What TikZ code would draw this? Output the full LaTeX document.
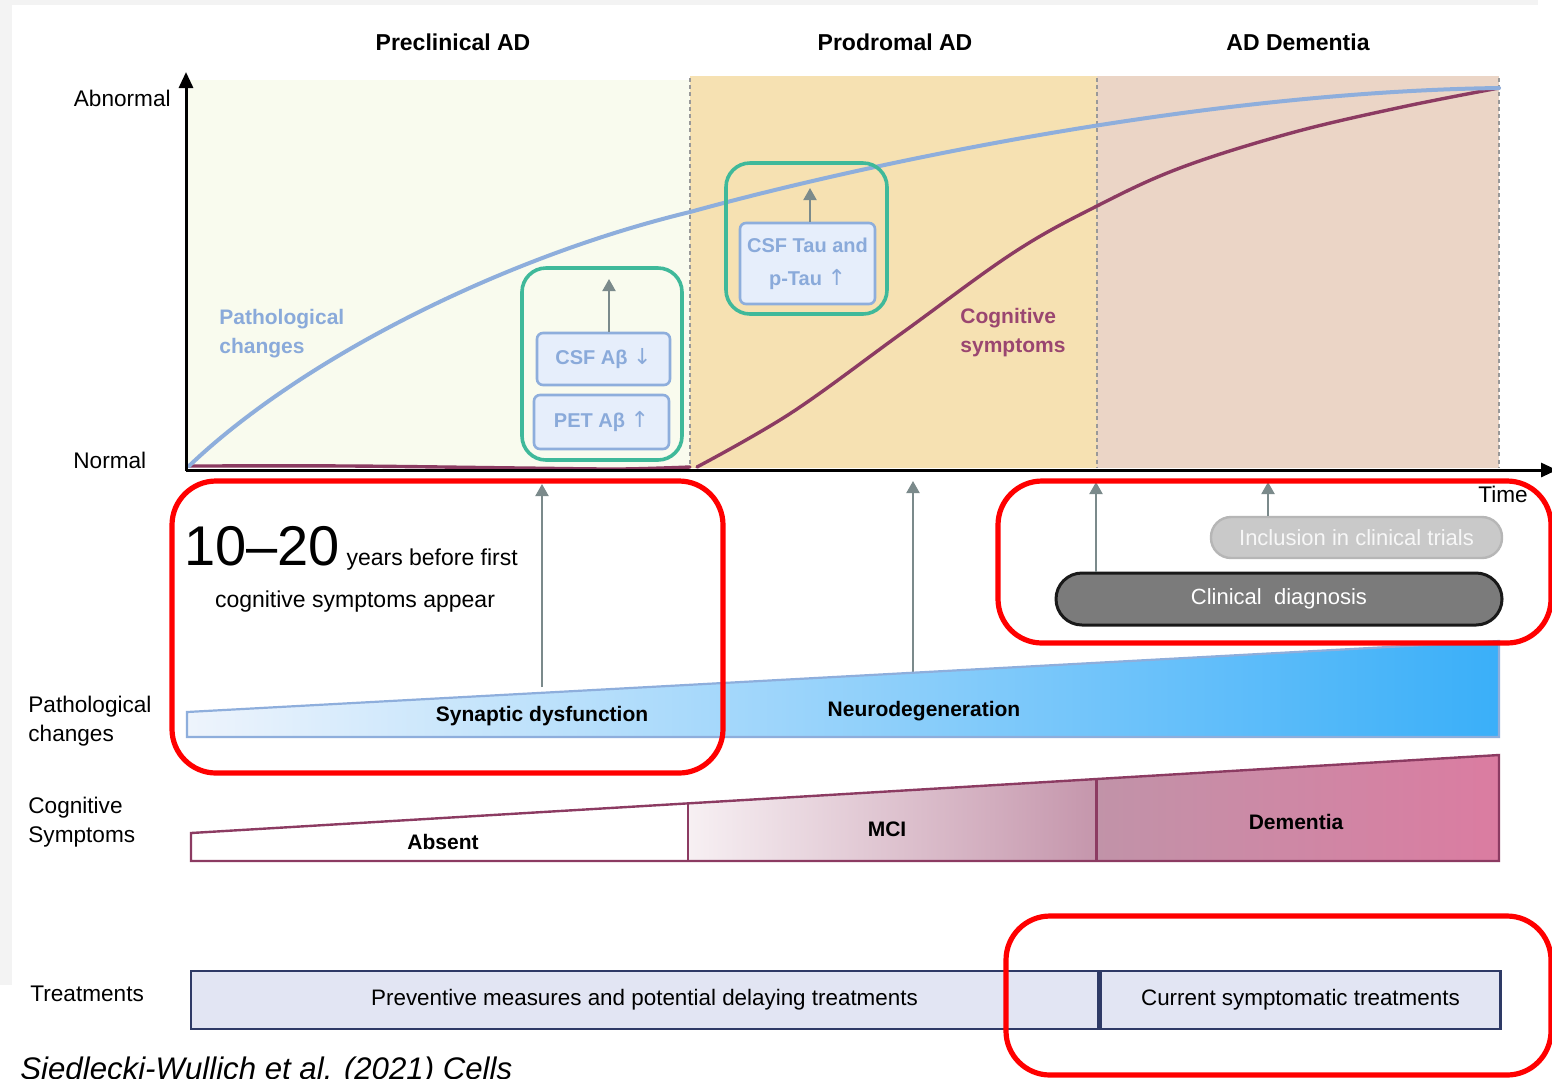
\documentclass[tikz,border=0pt]{standalone}
\usepackage{fontspec}
\setmainfont{Liberation Sans}
\newfontfamily\arrowfont{DejaVu Sans}
\usepackage{tikz}
\usetikzlibrary{arrows.meta,positioning,calc}
\definecolor{pageGray}{HTML}{F3F3F3}
\definecolor{preBg}{HTML}{F9FBEE}
\definecolor{proBg}{HTML}{F6E1B2}
\definecolor{demBg}{HTML}{EBD5C6}
\definecolor{pathBlue}{HTML}{8EAEDC}
\definecolor{pathText}{HTML}{8AAADA}
\definecolor{cogPurple}{HTML}{8C3B62}
\definecolor{cogText}{HTML}{9A4670}
\definecolor{tealFrame}{HTML}{3FB99A}
\definecolor{markFill}{HTML}{E6EEFB}
\definecolor{arrowGray}{HTML}{7B8A8B}
\definecolor{trialFill}{HTML}{C9C9C9}
\definecolor{trialEdge}{HTML}{B6B6B6}
\definecolor{dxFill}{HTML}{7B7B7B}
\definecolor{neuroFade}{HTML}{EEF4FC}
\definecolor{neuroBlue}{HTML}{3AAFF9}
\definecolor{mciFade}{HTML}{F7F0F3}
\definecolor{mciPink}{HTML}{C596AC}
\definecolor{demPink}{HTML}{DB7CA1}
\definecolor{treatFill}{HTML}{E2E5F3}
\definecolor{treatEdge}{HTML}{2E3A66}
\definecolor{alertRed}{HTML}{FF0000}
\newcommand{\upmark}{{\arrowfont\mdseries\fontsize{11}{12}\selectfont ↑}}
\newcommand{\downmark}{{\arrowfont\mdseries\fontsize{11}{12}\selectfont ↓}}
\tikzset{
  phase/.style={font=\bfseries\fontsize{11.5}{14}\selectfont,inner sep=0},
  sidetext/.style={font=\fontsize{11.3}{14.5}\selectfont,inner sep=0,align=left},
  curvetext/.style={font=\bfseries\fontsize{10.5}{14.5}\selectfont,inner sep=0,align=left},
  bandtext/.style={font=\bfseries\fontsize{10.5}{13}\selectfont,inner sep=0},
  axisline/.style={line width=1.5pt,-{Triangle[length=8pt,width=7pt]}},
  stageSep/.style={draw=gray!80,line width=0.9pt,dash pattern=on 2pt off 1.6pt},
  pathCurve/.style={draw=pathBlue,line width=2pt,line cap=round},
  cogCurve/.style={draw=cogPurple,line width=1.7pt,line cap=round},
  greenframe/.style={draw=tealFrame,line width=1.8pt,rounded corners=12pt},
  biomarker/.style={draw=pathBlue,fill=markFill,line width=1.3pt,rounded corners=3pt,
    text=pathText,font=\bfseries\fontsize{10}{16.5}\selectfont,align=center,inner sep=0},
  upArrow/.style={draw=arrowGray,line width=1pt,-{Triangle[length=6pt,width=6.5pt]}},
  pillbox/.style={inner sep=0,font=\fontsize{11}{13}\selectfont},
  treatbox/.style={draw=treatEdge,fill=treatFill,line width=1.2pt,inner sep=0,
    minimum height=29pt,font=\fontsize{11.2}{13}\selectfont},
  redframe/.style={draw=alertRed,line width=2.6pt,rounded corners=22pt}
}

\begin{document}
\begin{tikzpicture}[x=0.5pt,y=-0.5pt]
  \useasboundingbox (0,0) rectangle (1552,1078);
  % ---- page margins
  \fill[white] (0,0) rectangle (1552,1078);
  \fill[pageGray] (0,0) rectangle (1538,5);
  \fill[pageGray] (0,0) rectangle (12,985);

  % ---- stage backgrounds
  \fill[preBg] (188,80) rectangle (690,468);
  \fill[proBg] (690,76) rectangle (1097,468);
  \fill[demBg] (1097,76) rectangle (1499,468);
  \foreach \x in {690,1097,1499}
    \draw[stageSep] (\x,78) -- (\x,468);
  \node[phase] (preHead) at (453,42) {Preclinical AD};
  \node[phase] (proHead) at (895,42) {Prodromal AD};
  \node[phase] (demHead) at (1298,42) {AD Dementia};

  % ---- curves
  \draw[cogCurve] plot[smooth,tension=0.5] coordinates
    {(189,466) (350,466) (520,468) (620,469) (690,467)};
  \draw[cogCurve] plot[smooth,tension=0.6] coordinates
    {(697,467) (791,413) (902,333) (1013,253) (1095,207) (1180,168)
     (1291,133) (1402,107) (1499,88)};
  \draw[pathCurve] (189,466) .. controls (300,360) and (500,258) .. (690,212)
    .. controls (860,165) and (1200,92) .. (1499,88);
  \node[curvetext,text=pathText,anchor=west] (pathTag) at (219,334) {Pathological\\changes};
  \node[curvetext,text=cogText,anchor=west] (cogTag) at (960,333) {Cognitive\\symptoms};

  % ---- axes
  \coordinate (origin) at (186,470);
  \coordinate (yTip) at (186,72);
  \coordinate (xTip) at (1557,470);
  \draw[axisline] ($(origin)+(0,1)$) -- (yTip);
  \draw[axisline] (origin) -- (xTip);
  \node[sidetext,anchor=east] (abnLabel) at (171,98) {Abnormal};
  \node[sidetext,anchor=west] (normLabel) at (73,460) {Normal};
  \node[sidetext,anchor=west] (timeLabel) at (1478,494) {Time};

  % ---- amyloid markers
  \node[greenframe,minimum width=80pt,minimum height=96pt] (abFrame) at (602,364) {};
  \node[biomarker,minimum width=66.5pt,minimum height=26pt] (csfAb) at (603.5,359) {CSF Aβ \downmark};
  \node[biomarker,minimum width=67.5pt,minimum height=27pt] (petAb) at (601.5,422) {PET Aβ \upmark};
  \coordinate (abTip) at (609,279);
  \draw[upArrow] (csfAb.north -| abTip) -- (abTip);

  % ---- tau marker
  \node[greenframe,minimum width=80.5pt,minimum height=75.5pt] (tauFrame) at (806.5,238.5) {};
  \node[biomarker,minimum width=67.5pt,minimum height=40.5pt] (csfTau) at (807.5,263.5) {CSF Tau and\\p-Tau \upmark};
  \coordinate (tauTip) at (810,188);
  \draw[upArrow] (csfTau.north -| tauTip) -- (tauTip);

  % ---- time note
  \node[anchor=base west,inner sep=0,font=\fontsize{11.5}{14}\selectfont] (yearsNote) at (184,565)
      {{\fontsize{28}{30}\selectfont 10–20} years before first};
  \node[anchor=base,inner sep=0,font=\fontsize{11.5}{14}\selectfont] (yearsNote2) at (355,607)
      {cognitive symptoms appear};

  % ---- diagnosis and trials
  \node[pillbox,draw=trialEdge,fill=trialFill,text=white!94!gray,line width=1.2pt,
        rounded corners=10pt,minimum width=145.5pt,minimum height=20.5pt] (trials)
      at (1356.5,537.5) {Inclusion in clinical trials};
  \node[pillbox,draw=black!90,fill=dxFill,text=white,line width=1.5pt,
        rounded corners=13pt,minimum width=223pt,minimum height=26pt] (clinDx)
      at (1279,599) {Clinical\ \ diagnosis};
  \coordinate (synAx) at (542,484);
  \coordinate (synBase) at (542,687);
  \coordinate (neuroAx) at (913,481);
  \coordinate (neuroBase) at (913,672);
  \coordinate (dxAx) at (1096,482);
  \coordinate (trialsAx) at (1268,482);
  \draw[upArrow] (synBase) -- (synAx);
  \draw[upArrow] (neuroBase) -- (neuroAx);
  \draw[upArrow] (clinDx.north -| dxAx) -- (dxAx);
  \draw[upArrow] (trials.north -| trialsAx) -- (trialsAx);

  % ---- pathological changes band
  \shade[left color=neuroFade,right color=neuroBlue]
    (187,712) -- (1499,641) -- (1499,737) -- (187,737) -- cycle;
  \draw[pathBlue,line width=1.1pt] (187,712) -- (1499,641) -- (1499,737) -- (187,737) -- cycle;
  \node[bandtext] (synLabel) at (542,716) {Synaptic dysfunction};
  \node[bandtext] (neuroLabel) at (924,711) {Neurodegeneration};

  % ---- cognitive symptoms band
  \fill[white] (191,833) -- (688,803) -- (688,861) -- (191,861) -- cycle;
  \shade[left color=mciFade,right color=mciPink]
    (688,803) -- (1096,779) -- (1096,861) -- (688,861) -- cycle;
  \shade[left color=mciPink!98!black,right color=demPink]
    (1096,779) -- (1499,755) -- (1499,861) -- (1096,861) -- cycle;
  \draw[cogPurple,line width=1.2pt] (191,833) -- (1499,755) -- (1499,861) -- (191,861) -- cycle;
  \draw[cogPurple,line width=1.2pt] (688,803) -- (688,861);
  \draw[cogPurple,line width=1.5pt] (1096,779) -- (1096,861);
  \node[bandtext] (absLabel) at (443,842) {Absent};
  \node[bandtext] (mciLabel) at (887,829) {MCI};
  \node[bandtext] (demLabel) at (1296,822) {Dementia};

  % ---- row labels
  \node[sidetext,anchor=west] (pathRow) at (28,721) {Pathological\\changes};
  \node[sidetext,anchor=west] (cogRow) at (28,822) {Cognitive\\Symptoms};
  \node[sidetext,anchor=west] (treatRow) at (30,994) {Treatments};

  % ---- treatments
  \node[treatbox,minimum width=453.5pt] (prevBox) at (644.5,1000)
      {Preventive measures and potential delaying treatments};
  \node[treatbox,minimum width=200pt,right=0pt of prevBox] (currBox)
      {Current symptomatic treatments};

  % ---- highlights
  \draw[redframe] (172,481) rectangle (723,773);
  \draw[redframe] (998,481) rectangle (1551,643);
  \draw[redframe] (1006,916) rectangle (1551,1075);

  \node[anchor=base west,inner sep=0,font=\itshape\fontsize{15.6}{18}\selectfont] (cite)
      at (20,1079) {Siedlecki-Wullich et al. (2021) Cells};
\end{tikzpicture}
\end{document}
